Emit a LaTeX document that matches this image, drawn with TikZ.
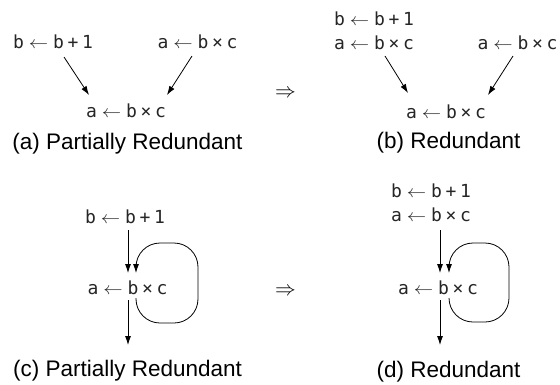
\documentclass[tikz,border=0pt]{standalone}
\usepackage{fontspec}
\setmainfont{Liberation Sans}
\newfontfamily\codefont{DejaVu Sans Mono}
\usetikzlibrary{arrows.meta}
\newcommand\Lc[1]{\makebox[11pt]{#1}}
\newcommand\Ar{\makebox[29pt]{\scalebox{1.12}[1]{$\leftarrow$}}}
\newcommand\Op[1]{\makebox[18pt]{#1}}
\newcommand\asg[4]{\Lc{#1}\Ar\Lc{#2}\Op{#3}\Lc{#4}}
\begin{document}
\begin{tikzpicture}[x=1pt,y=-1pt,
  code/.style={font=\codefont\fontsize{18}{24}\selectfont, inner sep=0pt, anchor=base, text=black!85},
  captext/.style={font=\fontsize{22.5}{27}\selectfont, inner sep=0pt, anchor=base},
  imp/.style={font=\fontsize{21}{24}\selectfont, inner sep=0pt},
  arr/.style={-{Latex[length=9pt,width=6pt]}, line width=0.8pt}]
\useasboundingbox (0,0) rectangle (560,384);
% (a)
\node[code] (a1) at (53,48) {\asg{b}{b}{+}{1}};
\node[code] (a2) at (197.5,48) {\asg{a}{b}{×}{c}};
\node[code] (a3) at (126,117) {\asg{a}{b}{×}{c}};
\node[captext] (la) at (127.5,149) {(a) Partially Redundant};
\draw[arr] ([xshift=11pt,yshift=-9pt]a1.base) -- ([xshift=-37pt,yshift=22pt]a3.base);
\draw[arr] ([xshift=-5.5pt,yshift=-8pt]a2.base) -- ([xshift=41pt,yshift=22pt]a3.base);
\node[imp] (imp1) at (285.5,94) {$\Rightarrow$};
% (b)
\node[code] (b1) at (374,25) {\asg{b}{b}{+}{1}};
\node[code] (b2) at (374,49) {\asg{a}{b}{×}{c}};
\node[code] (b3) at (517.5,49) {\asg{a}{b}{×}{c}};
\node[code] (b4) at (446,118) {\asg{a}{b}{×}{c}};
\node[captext] (lb) at (448.5,148) {(b) Redundant};
\draw[arr] ([xshift=11pt,yshift=-7pt]b2.base) -- ([xshift=-38pt,yshift=25pt]b4.base);
\draw[arr] ([xshift=-4.5pt,yshift=-7pt]b3.base) -- ([xshift=42pt,yshift=23pt]b4.base);
% (c)
\node[code] (c1) at (125,223) {\asg{b}{b}{+}{1}};
\node[code] (c2) at (127.5,294) {\asg{a}{b}{×}{c}};
\node[captext] (lc) at (127.5,376) {(c) Partially Redundant};
\draw[arr] ([xshift=3pt,yshift=-7pt]c1.base) -- ([xshift=0.5pt,yshift=21pt]c2.base);
\coordinate (cout) at ([xshift=0.5pt,yshift=-51pt]c2.base);
\draw[arr] ([xshift=0.5pt,yshift=-6pt]c2.base) -- (cout);
\coordinate (cR) at ([xshift=70.5pt,yshift=-29pt]c2.base);
\draw[arr, rounded corners=24pt] ([xshift=8.5pt,yshift=-4pt]c2.base) |- (cR) |- ([xshift=8.5pt,yshift=51pt]c2.base) -- ([xshift=8.5pt,yshift=21pt]c2.base);
\node[imp] (imp2) at (285.5,292) {$\Rightarrow$};
% (d)
\node[code] (d1) at (431,197) {\asg{b}{b}{+}{1}};
\node[code] (d2) at (431,221) {\asg{a}{b}{×}{c}};
\node[code] (d3) at (438,294) {\asg{a}{b}{×}{c}};
\node[captext] (ld) at (448.5,377) {(d) Redundant};
\draw[arr] ([xshift=9pt,yshift=-9pt]d2.base) -- ([xshift=2pt,yshift=21pt]d3.base);
\coordinate (dout) at ([xshift=2pt,yshift=-51pt]d3.base);
\draw[arr] ([xshift=2pt,yshift=-6pt]d3.base) -- (dout);
\coordinate (dR) at ([xshift=71pt,yshift=-28pt]d3.base);
\draw[arr, rounded corners=24pt] ([xshift=11pt,yshift=-4pt]d3.base) |- (dR) |- ([xshift=11pt,yshift=51pt]d3.base) -- ([xshift=11pt,yshift=21pt]d3.base);
\end{tikzpicture}
\end{document}
